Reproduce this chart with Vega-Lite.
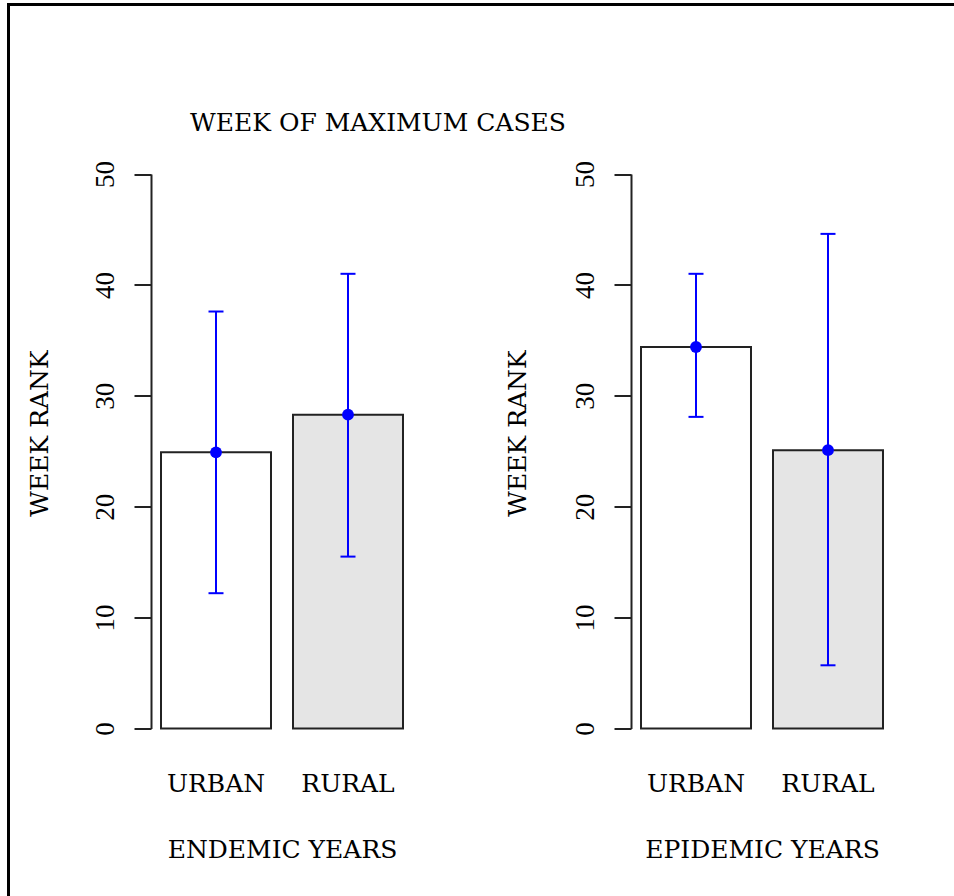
{
  "$schema": "https://vega.github.io/schema/vega-lite/v6.json",
  "width": 948,
  "height": 896,
  "padding": {"left": 8.5, "top": 4.5, "right": 0, "bottom": 0},
  "background": "white",
  "config": {"view": {"stroke": "black", "strokeWidth": 3}},
  "title": {
    "text": "WEEK OF MAXIMUM CASES",
    "anchor": "middle",
    "frame": "group",
    "offset": -156.5,
    "dx": -104.5,
    "baseline": "bottom",
    "font": "DejaVu Serif",
    "fontSize": 25,
    "fontWeight": "normal",
    "color": "black"
  },
  "data": {
    "values": [
      {"period": "ENDEMIC", "area": "URBAN", "mean": 24.9, "lo": 12.2, "hi": 37.6},
      {"period": "ENDEMIC", "area": "RURAL", "mean": 28.3, "lo": 15.5, "hi": 41.0},
      {"period": "EPIDEMIC", "area": "URBAN", "mean": 34.4, "lo": 28.1, "hi": 41.0},
      {"period": "EPIDEMIC", "area": "RURAL", "mean": 25.1, "lo": 5.7, "hi": 44.6}
    ]
  },
  "layer": [
    {
      "transform": [{"filter": "datum.period === 'ENDEMIC'"}],
      "encoding": {
        "x": {
          "field": "area", "type": "nominal", "sort": null,
          "scale": {"domain": ["URBAN", "RURAL"], "range": [142.5, 404.5], "paddingInner": 0.1667, "paddingOuter": 0.0758},
          "axis": {
            "orient": "bottom", "offset": -172, "domain": false, "ticks": false, "tickSize": 0,
            "labelPadding": 43, "labelAngle": 0, "labelFont": "DejaVu Serif", "labelFontSize": 25,
            "labelColor": "black", "labelBaseline": "top",
            "title": "ENDEMIC YEARS", "titleFont": "DejaVu Serif", "titleFontSize": 25,
            "titleFontWeight": "normal", "titleColor": "black", "titleBaseline": "top", "titleY": 109
          }
        }
      },
      "layer": [
        {
          "mark": {"type": "bar", "stroke": "#222222", "strokeWidth": 2},
          "encoding": {
            "y": {
              "field": "mean", "type": "quantitative", "title": "WEEK RANK",
              "scale": {"domain": [0, 50], "range": [724, 169.5], "nice": false, "zero": true},
              "axis": {
                "orient": "left", "offset": -142.5, "values": [0, 10, 20, 30, 40, 50], "grid": false,
                "domainColor": "#222222", "domainWidth": 2, "tickColor": "#222222", "tickWidth": 2, "tickSize": 17,
                "labelPadding": 15, "labelAngle": -90, "labelAlign": "center", "labelBaseline": "bottom",
                "labelFont": "Liberation Serif", "labelFontSize": 27, "labelColor": "black", "labelOverlap": false,
                "titleFont": "DejaVu Serif", "titleFontSize": 25, "titleFontWeight": "normal", "titleColor": "black",
                "titleAngle": -90, "titleBaseline": "middle", "titleAlign": "center", "titleX": -112, "titleY": 428.5
              }
            },
            "fill": {"field": "area", "type": "nominal", "scale": {"domain": ["URBAN", "RURAL"], "range": ["#ffffff", "#e5e5e5"]}, "legend": null}
          }
        },
        {
          "mark": {"type": "rule", "color": "blue", "strokeWidth": 2},
          "encoding": {"y": {"field": "lo", "type": "quantitative", "title": "WEEK RANK"}, "y2": {"field": "hi"}}
        },
        {
          "mark": {"type": "tick", "color": "blue", "size": 15, "thickness": 2, "opacity": 1},
          "encoding": {"y": {"field": "lo", "type": "quantitative", "title": "WEEK RANK"}}
        },
        {
          "mark": {"type": "tick", "color": "blue", "size": 15, "thickness": 2, "opacity": 1},
          "encoding": {"y": {"field": "hi", "type": "quantitative", "title": "WEEK RANK"}}
        },
        {
          "mark": {"type": "point", "filled": true, "color": "blue", "size": 140, "opacity": 1},
          "encoding": {"y": {"field": "mean", "type": "quantitative", "title": "WEEK RANK"}}
        }
      ]
    },
    {
      "transform": [{"filter": "datum.period === 'EPIDEMIC'"}],
      "encoding": {
        "x": {
          "field": "area", "type": "nominal", "sort": null,
          "scale": {"domain": ["URBAN", "RURAL"], "range": [622.5, 884.5], "paddingInner": 0.1667, "paddingOuter": 0.0758},
          "axis": {
            "orient": "bottom", "offset": -172, "domain": false, "ticks": false, "tickSize": 0,
            "labelPadding": 43, "labelAngle": 0, "labelFont": "DejaVu Serif", "labelFontSize": 25,
            "labelColor": "black", "labelBaseline": "top",
            "title": "EPIDEMIC YEARS", "titleFont": "DejaVu Serif", "titleFontSize": 25,
            "titleFontWeight": "normal", "titleColor": "black", "titleBaseline": "top", "titleY": 109
          }
        }
      },
      "layer": [
        {
          "mark": {"type": "bar", "stroke": "#222222", "strokeWidth": 2},
          "encoding": {
            "y": {
              "field": "mean", "type": "quantitative", "title": "WEEK RANK",
              "scale": {"domain": [0, 50], "range": [724, 169.5], "nice": false, "zero": true},
              "axis": {
                "orient": "left", "offset": -622.5, "values": [0, 10, 20, 30, 40, 50], "grid": false,
                "domainColor": "#222222", "domainWidth": 2, "tickColor": "#222222", "tickWidth": 2, "tickSize": 17,
                "labelPadding": 15, "labelAngle": -90, "labelAlign": "center", "labelBaseline": "bottom",
                "labelFont": "Liberation Serif", "labelFontSize": 27, "labelColor": "black", "labelOverlap": false,
                "titleFont": "DejaVu Serif", "titleFontSize": 25, "titleFontWeight": "normal", "titleColor": "black",
                "titleAngle": -90, "titleBaseline": "middle", "titleAlign": "center", "titleX": -114, "titleY": 428.5
              }
            },
            "fill": {"field": "area", "type": "nominal", "scale": {"domain": ["URBAN", "RURAL"], "range": ["#ffffff", "#e5e5e5"]}, "legend": null}
          }
        },
        {
          "mark": {"type": "rule", "color": "blue", "strokeWidth": 2},
          "encoding": {"y": {"field": "lo", "type": "quantitative", "title": "WEEK RANK"}, "y2": {"field": "hi"}}
        },
        {
          "mark": {"type": "tick", "color": "blue", "size": 15, "thickness": 2, "opacity": 1},
          "encoding": {"y": {"field": "lo", "type": "quantitative", "title": "WEEK RANK"}}
        },
        {
          "mark": {"type": "tick", "color": "blue", "size": 15, "thickness": 2, "opacity": 1},
          "encoding": {"y": {"field": "hi", "type": "quantitative", "title": "WEEK RANK"}}
        },
        {
          "mark": {"type": "point", "filled": true, "color": "blue", "size": 140, "opacity": 1},
          "encoding": {"y": {"field": "mean", "type": "quantitative", "title": "WEEK RANK"}}
        }
      ]
    }
  ],
  "resolve": {
    "scale": {"x": "independent", "y": "independent"},
    "axis": {"x": "independent", "y": "independent"}
  }
}
